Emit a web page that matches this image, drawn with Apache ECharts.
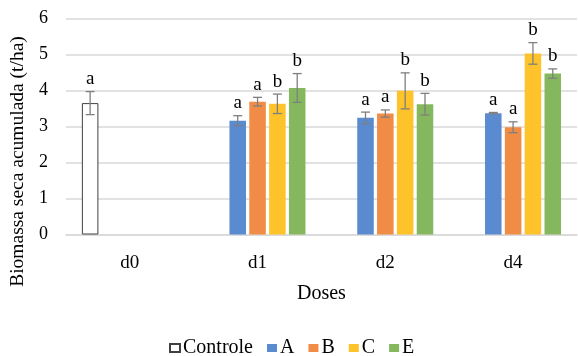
<!DOCTYPE html>
<html>
<head>
<meta charset="utf-8">
<script src="https://cdn.jsdelivr.net/npm/echarts@6/dist/echarts.min.js"></script>
<style>
  html, body { margin: 0; padding: 0; background: #fff; }
  #chart { width: 578px; height: 356px; }
</style>
</head>
<body>
<div id="chart"></div>
<script>
// doses on the x axis
const doses = ['d0', 'd1', 'd2', 'd4'];
const seriesNames = ['Controle', 'A', 'B', 'C', 'E'];

// mean dry biomass (t/ha), null = no bar
const controle = [3.65, null, null, null];
const valA = [null, 3.16, 3.24, 3.37];
const valB = [null, 3.69, 3.36, 2.98];
const valC = [null, 3.63, 3.99, 5.03];
const valE = [null, 4.07, 3.62, 4.47];

// error (+/-)
const errControle = [0.32, null, null, null];
const errA = [null, 0.14, 0.16, 0.02];
const errB = [null, 0.12, 0.10, 0.15];
const errC = [null, 0.27, 0.50, 0.30];
const errE = [null, 0.40, 0.30, 0.13];

// significance letters
const letControle = ['a', '', '', ''];
const letA = ['', 'a', 'a', 'a'];
const letB = ['', 'a', 'a', 'a'];
const letC = ['', 'b', 'b', 'b'];
const letE = ['', 'b', 'b', 'b'];

const values = [controle, valA, valB, valC, valE];
const errors = [errControle, errA, errB, errC, errE];
const letters = [letControle, letA, letB, letC, letE];
const colors = ['#ffffff', '#5a8ad0', '#f08c45', '#fec32a', '#85b85e'];

const FONT = '"Liberation Serif", "Times New Roman", serif';
const CAT_GAP = 0.25, BAR_GAP = 0.2, N = 5;

const chart = echarts.init(document.getElementById('chart'));

const barSeries = seriesNames.map((name, i) => ({
  name,
  type: 'bar',
  data: values[i],
  barGap: '20%',
  barCategoryGap: '25%',
  itemStyle: i === 0
    ? { color: '#ffffff', borderColor: '#404040', borderWidth: 1 }
    : { color: colors[i] },
  silent: true
}));

// error bars + letters, placed at each bar's slot in the group
const errData = [];
for (let s = 0; s < N; s++) {
  for (let c = 0; c < doses.length; c++) {
    if (values[s][c] == null) continue;
    errData.push([c, values[s][c], errors[s][c], s, letters[s][c]]);
  }
}

const errSeries = {
  type: 'custom',
  name: 'err',
  z: 10,
  silent: true,
  data: errData,
  renderItem(params, api) {
    const c = api.value(0), v = api.value(1), e = api.value(2), s = api.value(3);
    const letter = errData[params.dataIndex][4];
    const band = api.size([1, 0])[0];
    const bw = band * (1 - CAT_GAP) / (N + (N - 1) * BAR_GAP);
    const off = (s - (N - 1) / 2) * bw * (1 + BAR_GAP);
    const hi = api.coord([c, v + e]);
    const lo = api.coord([c, v - e]);
    const x = hi[0] + off;
    const cap = 4.5;
    const style = { stroke: '#7f7f7f', lineWidth: 1.3 };
    return {
      type: 'group',
      children: [
        { type: 'line', shape: { x1: x, y1: hi[1], x2: x, y2: lo[1] }, style },
        { type: 'line', shape: { x1: x - cap, y1: hi[1], x2: x + cap, y2: hi[1] }, style },
        { type: 'line', shape: { x1: x - cap, y1: lo[1], x2: x + cap, y2: lo[1] }, style },
        {
          type: 'text',
          style: {
            x: x, y: hi[1] - 3, text: letter,
            align: 'center', verticalAlign: 'bottom',
            font: '19px ' + FONT, fill: '#000'
          }
        }
      ]
    };
  }
};

const option = {
  animation: false,
  textStyle: { fontFamily: FONT },
  grid: { left: 65, right: 1, top: 18.5, bottom: 121.5 },
  legend: {
    data: seriesNames,
    top: 333,
    left: 164,
    itemWidth: 10,
    itemHeight: 8,
    itemGap: 14,
    icon: 'rect',
    textStyle: { fontFamily: FONT, fontSize: 20, color: '#000', padding: [6, 0, 0, -2] }
  },
  xAxis: {
    type: 'category',
    data: doses,
    name: 'Doses',
    nameLocation: 'middle',
    nameGap: 49,
    nameTextStyle: { fontFamily: FONT, fontSize: 20, color: '#000' },
    axisLine: { lineStyle: { color: '#d9d9d9', width: 1.5 } },
    axisTick: { show: false },
    axisLabel: { fontFamily: FONT, fontSize: 19, color: '#000', margin: 19 }
  },
  yAxis: {
    type: 'value',
    min: 0,
    max: 6,
    interval: 1,
    name: 'Biomassa seca acumulada (t/ha)',
    nameLocation: 'middle',
    nameRotate: 90,
    nameGap: 31,
    nameTextStyle: { fontFamily: FONT, fontSize: 19.5, color: '#000', padding: [0, 70, 0, 0] },
    axisLine: { show: false },
    axisTick: { show: false },
    axisLabel: { fontFamily: FONT, fontSize: 18, color: '#000', margin: 18 },
    splitLine: { lineStyle: { color: '#d9d9d9', width: 1.5 } }
  },
  series: [...barSeries, errSeries]
};

chart.setOption(option);
</script>
</body>
</html>
